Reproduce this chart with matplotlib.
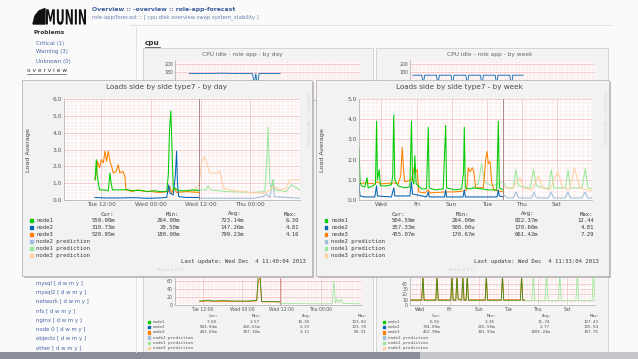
import numpy as np
import matplotlib.pyplot as plt
from matplotlib.patches import Rectangle, Polygon, PathPatch
from matplotlib.textpath import TextPath
from matplotlib.font_manager import FontProperties
from matplotlib.transforms import Affine2D

W, H = 638, 359

# ---------------- "by day" load graph (hours since Tue 00:00) ----------------
day_ticks = [12, 24, 36, 48]
day_labels = ['Tue 12:00', 'Wed 00:00', 'Wed 12:00', 'Thu 00:00']
day_now = 35.67

day_n1_t = [10.5, 10.8, 11.0, 11.3, 11.6, 12.5, 13.7, 14.1, 14.4, 14.7, 16.5, 18.0, 19.7, 21.5, 23.0, 24.8,
            26.2, 27.8, 28.2, 28.5, 28.8, 29.1, 29.4, 29.9, 30.6, 32.6, 34.2, 35.6]
day_n1_v = [1.2, 2.4, 1.5, 1.0, 0.6, 0.6, 0.55, 1.6, 1.0, 0.6, 0.6, 0.62, 0.55, 0.58, 0.5, 0.55,
            0.5, 0.5, 1.5, 4.2, 5.3, 3.0, 0.6, 0.7, 0.55, 0.55, 0.6, 0.55]
day_n2_t = [10.5, 13.0, 16.5, 20.0, 23.0, 26.0, 27.8, 28.3, 28.6, 29.4, 29.9, 30.2, 30.4, 30.7, 32.6, 35.6]
day_n2_v = [0.15, 0.12, 0.12, 0.14, 0.1, 0.12, 0.15, 0.9, 0.4, 0.3, 1.5, 2.9, 1.0, 0.2, 0.15, 0.15]
day_n3_t = [10.5, 10.8, 11.1, 11.6, 12.0, 12.5, 12.9, 13.3, 13.7, 14.1, 14.5, 14.9, 15.6, 16.1, 16.5,
            17.2, 17.7, 18.0, 18.9, 19.5, 20.6, 21.5, 23.0, 24.0, 25.0, 26.2, 28.2, 28.6, 29.0, 29.6,
            30.2, 32.6, 35.6]
day_n3_v = [1.2, 1.6, 2.3, 1.9, 2.4, 2.2, 2.9, 2.3, 2.9, 2.3, 2.0, 1.6, 1.7, 2.1, 1.6,
            1.7, 1.4, 0.6, 0.55, 0.5, 0.6, 0.55, 0.5, 0.52, 0.47, 0.45, 0.5, 0.8, 0.4, 0.7,
            0.45, 0.5, 0.45]
day_p1_t = [33.8, 35.6, 37.4, 37.8, 38.4, 42.3, 48.7, 51.5, 52.0, 52.3, 52.7, 53.1, 53.5, 53.9, 56.7, 57.9, 60.0]
day_p1_v = [0.6, 0.6, 0.6, 0.85, 0.6, 0.5, 0.45, 0.5, 2.5, 4.3, 1.0, 0.6, 1.2, 0.6, 0.5, 0.9, 0.6]
day_p2_t = [35.6, 48.7, 51.1, 51.9, 52.7, 53.4, 53.8, 60.0]
day_p2_v = [0.1, 0.1, 0.2, 0.35, 0.15, 1.2, 0.2, 0.1]
day_p3_t = [34.2, 35.6, 36.2, 36.9, 37.4, 38.2, 39.8, 40.7, 41.5, 43.9, 47.9, 51.1, 52.3, 53.5, 55.1, 56.7,
            57.5, 60.0]
day_p3_v = [0.5, 0.9, 2.2, 2.6, 2.3, 1.6, 1.6, 1.7, 0.7, 0.55, 0.45, 0.4, 0.5, 0.8, 0.6, 0.7,
            1.2, 1.2]
day_cur = ['559.98m', '310.73m', '520.95m']
day_min = ['264.00m', '20.50m', '180.00m']
day_avg = ['723.14m', '147.26m', '799.23m']
day_max = ['6.30', '4.81', '4.16']

# ---------------- "by week" load graph (days since Mon 00:00) ----------------
week_ticks = [2, 4, 6, 8, 10, 12]
week_labels = ['Wed', 'Fri', 'Sun', 'Tue', 'Thu', 'Sat']
week_now = 8.95

week_n1_t = [0.72, 0.78, 0.86, 1.05, 1.18, 1.24, 1.52, 1.66, 1.72, 1.77, 1.87, 1.94, 2.28, 2.57, 2.64, 2.70,
             2.76, 2.95, 3.33, 3.62, 3.71, 3.77, 3.85, 3.90, 3.98, 4.28, 4.57, 4.67, 4.72, 5.05, 5.52,
             5.66, 5.71, 6.19, 6.57, 6.68, 6.72, 6.78, 7.05, 7.33, 7.71, 8.09, 8.57, 8.66, 8.72, 8.95]
week_n1_v = [2.6, 0.9, 0.7, 0.65, 1.1, 0.6, 0.7, 0.8, 3.9, 1.0, 1.5, 0.7, 0.7, 0.75, 1.2, 4.2,
             1.0, 0.7, 0.6, 0.65, 3.9, 1.0, 0.8, 2.2, 0.8, 0.55, 0.55, 3.6, 0.6, 0.5, 0.55,
             3.7, 0.6, 0.5, 0.55, 1.4, 3.6, 0.6, 0.55, 0.6, 0.55, 0.5, 0.5, 3.9, 0.6, 0.5]
week_n2_t = [0.72, 0.78, 1.05, 1.62, 1.72, 1.77, 2.57, 2.70, 2.76, 3.62, 3.71, 3.77, 4.57, 4.67, 4.72,
             5.59, 5.66, 5.71, 6.65, 6.72, 6.78, 8.59, 8.66, 8.72, 8.95]
week_n2_v = [0.8, 0.2, 0.15, 0.15, 0.7, 0.2, 0.15, 0.6, 0.2, 0.2, 0.9, 0.3, 0.15, 0.4, 0.15,
             0.15, 0.5, 0.15, 0.15, 0.5, 0.15, 0.15, 0.5, 0.2, 0.15]
week_n3_t = [0.72, 1.05, 1.62, 1.72, 2.0, 2.70, 2.95, 3.10, 3.18, 3.26, 3.33, 3.71, 3.87, 3.96, 4.04,
             4.13, 4.48, 4.67, 4.76, 5.66, 6.19, 6.70, 6.86, 6.95, 7.05, 7.18, 7.26, 7.37, 7.81, 7.94,
             8.02, 8.09, 8.19, 8.28, 8.41, 8.95]
week_n3_v = [0.8, 0.85, 0.8, 0.9, 0.8, 0.85, 0.8, 1.2, 2.6, 1.5, 0.9, 1.0, 1.6, 1.4, 1.5,
             0.4, 0.35, 0.5, 0.35, 0.4, 0.4, 0.45, 0.5, 1.6, 1.4, 1.6, 1.4, 0.6, 0.6, 2.0,
             2.4, 1.8, 1.9, 0.9, 0.5, 0.4]
week_p1_t = [7.14, 7.52, 7.71, 7.87, 8.28, 8.95, 9.14, 9.52, 9.66, 9.81, 10.48, 10.67, 10.83, 11.52,
             11.68, 11.83, 12.48, 12.64, 12.76, 13.43, 13.62, 13.77, 14.0]
week_p1_v = [0.6, 0.8, 1.8, 0.9, 0.7, 0.9, 0.6, 0.6, 1.5, 0.7, 0.6, 1.5, 0.7, 0.55,
             1.5, 0.6, 0.6, 1.5, 0.6, 0.6, 1.55, 0.6, 0.55]
week_p2_t = [8.95, 9.14, 9.52, 9.67, 9.81, 10.57, 10.70, 10.83, 11.52, 11.67, 11.81, 12.48, 12.62,
             12.76, 13.43, 13.60, 13.74, 14.0]
week_p2_v = [0.3, 0.1, 0.1, 0.4, 0.1, 0.1, 0.4, 0.1, 0.1, 0.4, 0.1, 0.1, 0.4,
             0.1, 0.1, 0.4, 0.1, 0.1]
week_p3_t = [8.95, 9.43, 9.90, 10.09, 10.57, 10.95, 11.20, 11.60, 12.05, 12.34, 12.72, 13.0, 13.3, 13.7, 14.0]
week_p3_v = [0.65, 0.55, 1.1, 0.6, 0.5, 1.2, 0.6, 0.5, 1.4, 0.6, 0.5, 1.6, 0.6, 0.5, 0.45]
week_cur = ['504.59m', '357.33m', '455.07m']
week_min = ['264.00m', '500.00u', '170.67m']
week_avg = ['822.37m', '170.60m', '661.42m']
week_max = ['12.44', '4.81', '7.29']

# ---------------- background page graphs ----------------
cpu_day_t = [8, 12, 18, 24, 27.5, 28.0, 28.5, 29.0, 29.5, 33, 36]
cpu_day_v = [176, 176, 177, 176, 176, 150, 176, 140, 176, 176, 176]
cpu_week_t = [1.5, 2.1, 2.2, 2.3, 3.1, 3.2, 3.3, 4.1, 4.2, 4.3, 5.1, 5.2, 5.3, 6.1, 6.2, 6.3, 7.1, 7.2,
              7.3, 8.1, 8.2, 8.3, 9.0]
cpu_week_v = [172, 172, 150, 172, 172, 150, 172, 172, 145, 172, 172, 150, 172, 172, 145, 172, 172,
              150, 172, 172, 140, 172, 172]
bot_day_t = [11.1, 14, 15, 18, 22, 26, 28.5, 29.0, 29.5, 30.0, 32, 35.6]
bot_day_g = [10, 12, 10, 11, 10, 10, 12, 80, 80, 9, 9, 8]
bot_day_o = [9, 10, 9, 9, 9, 9, 10, 60, 70, 8, 8, 8]
bot_pred_t = [35.6, 45, 51.5, 52.0, 52.5, 53.0, 53.6, 54.2, 54.8, 60]
bot_pred_v = [4, 3, 3, 60, 5, 15, 6, 15, 4, 3]
bot_week_t = [1.3, 2.1, 2.18, 2.26, 3.06, 3.14, 3.22, 4.08, 4.16, 4.24, 4.42, 4.5, 4.58, 4.82, 4.9,
              4.98, 5.12, 5.2, 5.28, 6.42, 6.5, 6.58, 7.52, 7.6, 7.68, 8.82, 8.9, 8.98, 9.1]
bot_week_v = [10, 10, 60, 10, 10, 60, 10, 10, 60, 10, 10, 60, 12, 10, 60, 10, 10, 60, 10, 10, 60,
              10, 10, 60, 10, 10, 60, 10, 10]
bot_wpred_t = [9.1, 9.6, 9.7, 9.8, 10.5, 10.6, 10.7, 11.4, 11.5, 11.6, 12.6, 12.7, 12.8, 13.7, 13.8, 13.9]
bot_wpred_v = [8, 8, 60, 8, 8, 60, 8, 8, 60, 8, 8, 60, 8, 8, 60, 8]

C1, C2, C3 = '#00cc00', '#0066b3', '#ff8000'
P1, P2, P3 = '#9be89b', '#9cc0de', '#ffcfa0'
LINK = '#4a68a8'


def box(x0, y0, x1, y1):
    return [x0 / W, 1 - y1 / H, (x1 - x0) / W, (y1 - y0) / H]


def rrd_axes(rect, xlim, ylim, xt, xl, yt, yl, xminor, yminor, fs):
    ax = fig.add_axes(box(*rect))
    ax.set_facecolor('white')
    ax.set_xlim(xlim)
    ax.set_ylim(ylim)
    ax.set_xticks(xt, xl)
    ax.set_yticks(yt, yl)
    ax.set_xticks(xminor, minor=True)
    ax.set_yticks(yminor, minor=True)
    ax.grid(which='minor', color='#f8dcdc', lw=0.35)
    ax.grid(which='major', color='#f0b4b4', lw=0.45)
    ax.tick_params(which='both', length=0, labelsize=fs, colors='#555', pad=1.5)
    for s in ['top', 'right']:
        ax.spines[s].set_visible(False)
    for s in ['left', 'bottom']:
        ax.spines[s].set_color('#aaa')
        ax.spines[s].set_linewidth(0.5)
    ax.set_axisbelow(True)
    return ax


fig = plt.figure(figsize=(W / 100, H / 100), dpi=100)
fig.patch.set_facecolor('#fafafa')

# ---------- page behind ----------
bg = fig.add_axes([0, 0, 1, 1])
bg.set_xlim(0, W)
bg.set_ylim(H, 0)
bg.axis('off')
bg.add_patch(Polygon([[33, 24], [35, 16], [39, 11], [45, 8.5], [45, 24]], color='#111'))
logo = TextPath((0, 0), 'MUNIN', size=1, prop=FontProperties(family='DejaVu Sans', weight='bold'))
ext = logo.get_extents()
tr = Affine2D().translate(-ext.x0, 0).scale(40 / ext.width, -15.5 / ext.height).translate(46, 24.5)
bg.add_patch(PathPatch(tr.transform_path(logo), color='#111', lw=0))
bg.text(92, 10, 'Overview :: -overview :: role-app-forecast', fontsize=4.4, fontweight='bold',
        color='#3a5a98', va='center')
bg.text(92, 17.5, 'role-app/forecast :: [ cpu disk overview swap system_stability ]', fontsize=3.75,
        color='#6a80b0', va='center')
bg.plot([130, 612], [25, 25], color='#dde3ee', lw=0.7)
bg.plot([136, 136], [27, 352], color='#e4e4e4', lw=0.7)
bg.text(34, 33, 'Problems', fontsize=4.2, fontweight='bold', color='#333', va='center')
for i, t in enumerate(['Critical (1)', 'Warning (3)', 'Unknown (0)']):
    bg.text(36, 43 + 9 * i, t, fontsize=3.9, color=LINK, va='center')
bg.text(27, 71, 'o v e r v i e w', fontsize=4.2, color='#333', va='center')
bg.plot([27, 66], [74, 74], color='#555', lw=0.5)
links = ['mysql', 'mysql2', 'network', 'nfs', 'nginx', 'node 0', 'objects', 'other']
for i, t in enumerate(links):
    bg.text(36, 283.3 + 9.25 * i, t + ' [ d w m y ]', fontsize=3.9, color=LINK, va='center')
bg.text(145, 43, 'cpu', fontsize=5.2, fontweight='bold', color='#333', va='center')
bg.plot([145, 160], [46.5, 46.5], color='#333', lw=0.5)
for x0, x1, tc, ttl in [(143, 373, 242, 'CPU idle - role app - by day'),
                        (376, 608, 490, 'CPU idle - role app - by week')]:
    bg.add_patch(Rectangle((x0, 48), x1 - x0, 304, facecolor='#f3f3f3', edgecolor='#cfcfcf', lw=0.6))
    bg.text(tc, 54.5, ttl, fontsize=4.2, color='#666', ha='center', va='center')
bg.add_patch(Rectangle((0, 352), W, 7, facecolor='#8a8e98', edgecolor='none'))
bg.add_patch(Rectangle((420, 352), 218, 7, facecolor='#c4c6cc', edgecolor='none'))

# background cpu graphs (top, mostly covered)
a = rrd_axes((175, 60, 360, 100), (3.6, 60.6), (110, 210), [], [], [200, 180], ['200', '180'],
             np.arange(4, 61, 1.0), np.arange(110, 211, 5), 3.3)
a.plot(cpu_day_t, cpu_day_v, color=C2, lw=0.6)
a = rrd_axes((410, 60, 595, 100), (1.3, 13.9), (110, 210), [], [], [200, 180], ['200', '180'],
             np.arange(1.5, 14, 0.25), np.arange(110, 211, 5), 3.3)
a.plot(cpu_week_t, cpu_week_v, color=C2, lw=0.6)

# background graphs (bottom)
a = rrd_axes((175, 278, 362, 305), (3.6, 60.6), (0, 68), day_ticks, day_labels, [0, 20, 40, 60],
             ['0', '20', '40', '60'], np.arange(4, 61, 1.0), np.arange(0, 68, 5), 3.3)
a.plot(bot_pred_t, bot_pred_v, color=P1, lw=0.6)
a.plot(bot_day_t, bot_day_o, color=C3, lw=0.6)
a.plot(bot_day_t, bot_day_g, color='#3a8a20', lw=0.6)
a.axvline(day_now, color='#c07070', lw=0.5)
a = rrd_axes((410, 278, 595, 305), (1.3, 13.9), (0, 51), week_ticks, week_labels, [0, 10, 20, 30, 40],
             ['0', '10', '20', '30', '40'], np.arange(1.5, 14, 0.25), np.arange(0, 51, 5), 3.3)
a.plot(bot_wpred_t, bot_wpred_v, color=P1, lw=0.6)
a.plot(bot_week_t, bot_week_v, color=C3, lw=0.6)
a.plot(bot_week_t, [v * 0.9 for v in bot_week_v], color='#3a8a20', lw=0.6)

bot_rows = [321.7, 327, 332.3, 337.6, 342.9, 348.2]
bot_names = ['node1', 'node2', 'node3', 'node2 prediction', 'node1 prediction', 'node3 prediction']
bot_cols = [C1, C2, C3, P2, P1, P3]
bot_stats_l = [['7.00', '503.84m', '443.02m'], ['2.57', '266.61m', '107.10m'],
               ['10.55', '2.33', '2.12'], ['123.82', '123.70', '94.33']]
bot_stats_r = [['6.92', '734.00m', '412.98m'], ['2.26', '215.50m', '101.93m'],
               ['11.74', '2.77', '1006.24m'], ['127.43', '125.54', '107.75']]
for sqx, stats, cols in [(148, bot_stats_l, [217, 260, 310, 366]), (383, bot_stats_r, [440, 495, 550, 598])]:
    for i, (nm, c) in enumerate(zip(bot_names, bot_cols)):
        bg.add_patch(Rectangle((sqx, bot_rows[i] - 1.2), 2.4, 2.4, color=c))
        bg.text(sqx + 5, bot_rows[i], nm, fontsize=3.1, family='DejaVu Sans Mono', color='#555', va='center')
    for j, hd in enumerate(['Cur:', 'Min:', 'Avg:', 'Max:']):
        bg.text(cols[j] - 3, 316, hd, fontsize=3.1, family='DejaVu Sans Mono', color='#555', ha='center',
                va='center')
        for i in range(3):
            bg.text(cols[j], bot_rows[i], stats[j][i], fontsize=3.1, family='DejaVu Sans Mono', color='#555',
                    ha='right', va='center')

# ---------- overlay panels ----------
ov = fig.add_axes([0, 0, 1, 1])
ov.set_xlim(0, W)
ov.set_ylim(H, 0)
ov.axis('off')
ov.patch.set_alpha(0)

legend_names = ['node1', 'node2', 'node3', 'node2 prediction', 'node1 prediction', 'node3 prediction']
legend_cols = [C1, C2, C3, P2, P1, P3]
rows = [220.7, 227.7, 234.7, 241.7, 248.7, 255.7]
MONO = dict(family='DejaVu Sans Mono', fontsize=4.1, color='#3a3a3a', va='center')

panels = [
    dict(x0=22, x1=312, plot=(64, 99, 300, 200), title='Loads side by side type7 - by day', tx=166,
         xlim=(3, 60), ylim=(0, 6), yt=[0, 1, 2, 3, 4, 5, 6], xt=day_ticks, xl=day_labels,
         xminor=np.arange(3, 61, 1.0), now=day_now,
         lines=[(day_p2_t, day_p2_v, P2), (day_p1_t, day_p1_v, P1), (day_p3_t, day_p3_v, P3),
                (day_n3_t, day_n3_v, C3), (day_n2_t, day_n2_v, C2), (day_n1_t, day_n1_v, C1)],
         stats=[day_cur, day_min, day_avg, day_max], hdr=[107, 172, 235, 291], vr=[115, 180, 244, 299],
         sq=31.5, upd='Last update: Wed Dec  4 11:40:04 2013', ux=306, mx=170),
    dict(x0=316, x1=609, plot=(359, 99, 592, 200), title='Loads side by side type7 - by week', tx=459,
         xlim=(0.72, 14.0), ylim=(0, 5), yt=[0, 1, 2, 3, 4, 5], xt=week_ticks, xl=week_labels,
         xminor=np.arange(0.75, 14.01, 0.25), now=week_now,
         lines=[(week_p2_t, week_p2_v, P2), (week_p1_t, week_p1_v, P1), (week_p3_t, week_p3_v, P3),
                (week_n3_t, week_n3_v, C3), (week_n2_t, week_n2_v, C2), (week_n1_t, week_n1_v, C1)],
         stats=[week_cur, week_min, week_avg, week_max], hdr=[398, 462, 528, 586], vr=[415, 475, 538, 594],
         sq=326, upd='Last update: Wed Dec  4 11:33:04 2013', ux=599, mx=462),
]

for p in panels:
    ov.add_patch(Rectangle((p['x0'] + 1.5, 81.5), p['x1'] - p['x0'], 196, facecolor='#9a9a9a',
                           edgecolor='none', alpha=0.6))
    ov.add_patch(Rectangle((p['x0'], 80), p['x1'] - p['x0'], 196, facecolor='#f2f2f2',
                           edgecolor='#b8b8b8', lw=0.6))
    ov.text(p['tx'], 87.5, p['title'], fontsize=5.2, color='#4a4a4a', ha='center', va='center')
    ov.text(p['x0'] + 6.5, 150, 'Load Average', fontsize=4.6, color='#444', rotation=90,
            ha='center', va='center')
    ov.text(p['x1'] - 5, 92, 'RRDTOOL / TOBI OETIKER', fontsize=3.0, color='#d4d4d4', rotation=270,
            ha='center', va='top')
    for i, (nm, c) in enumerate(zip(legend_names, legend_cols)):
        ov.add_patch(Rectangle((p['sq'] - 1.3, rows[i] - 1.3), 2.6, 2.6, color=c))
        ov.text(p['sq'] + 5, rows[i], nm, ha='left', **MONO)
    for j, hd in enumerate(['Cur:', 'Min:', 'Avg:', 'Max:']):
        ov.text(p['hdr'][j], 214, hd, ha='center', **MONO)
        for i in range(3):
            ov.text(p['vr'][j], rows[i], p['stats'][j][i], ha='right', **MONO)
    ov.text(p['ux'], 262, p['upd'], ha='right', **MONO)
    ov.text(p['mx'], 270, 'Munin 2.0.17', fontsize=3.0, color='#cfcfcf', ha='center', va='center')

    ax = rrd_axes(p['plot'], p['xlim'], p['ylim'], p['xt'], p['xl'], p['yt'],
                  ['%.1f' % v for v in p['yt']], p['xminor'], np.arange(0, p['ylim'][1] + 0.01, 0.2), 4.2)
    for t, v, c in p['lines']:
        ax.plot(t, v, color=c, lw=0.75)
    ax.axvline(p['now'], color='#a07878', lw=0.6)

fig.savefig('out.png', dpi=100, facecolor=fig.get_facecolor())
